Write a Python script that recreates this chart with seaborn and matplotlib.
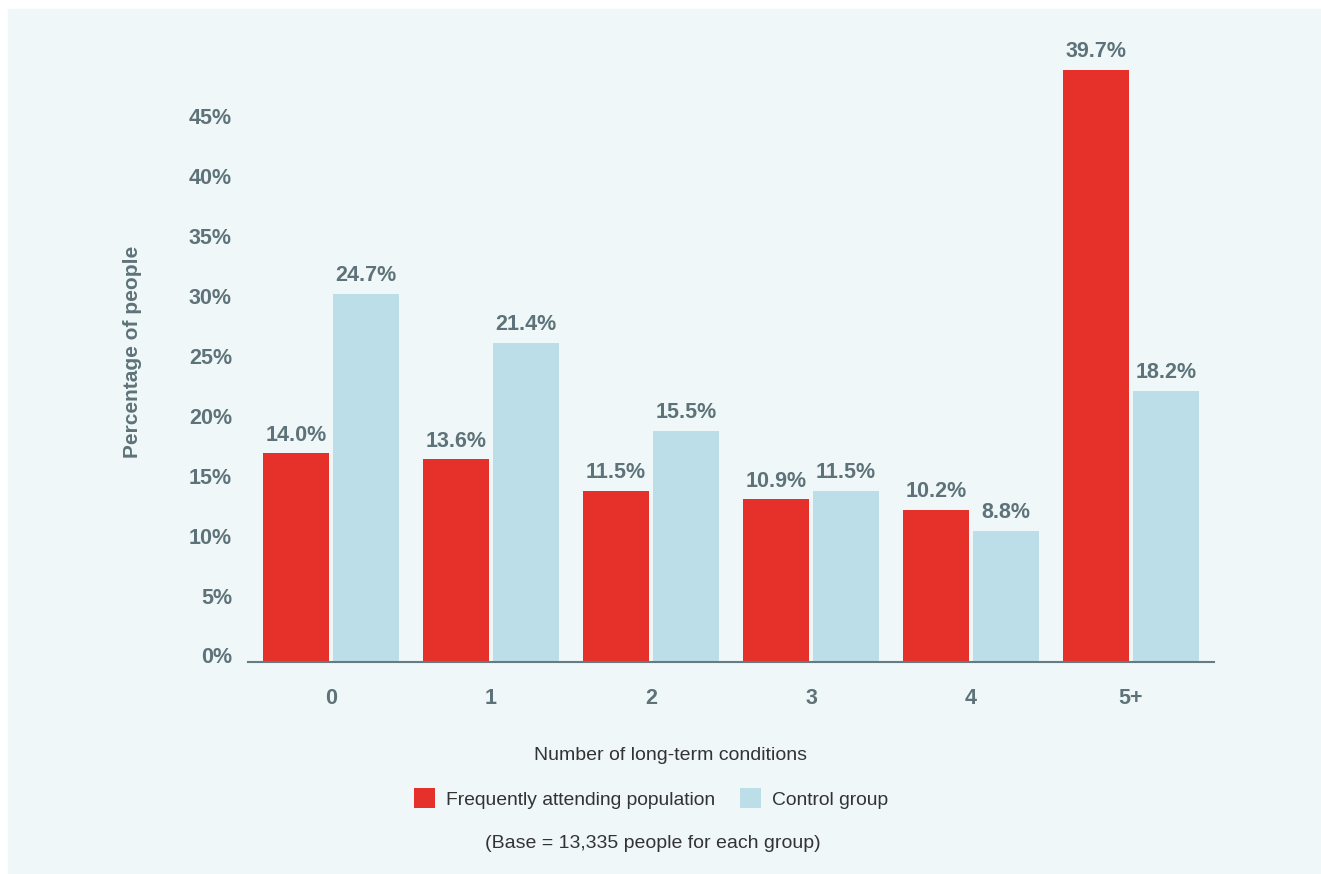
import matplotlib
matplotlib.use("Agg")
import matplotlib.pyplot as plt
import seaborn as sns
import pandas as pd
from matplotlib.patches import Patch, Rectangle

# Data
conditions = ["0", "1", "2", "3", "4", "5+"]
frequent = [14.0, 13.6, 11.5, 10.9, 10.2, 39.7]
control = [24.7, 21.4, 15.5, 11.5, 8.8, 18.2]
groups = ["Frequently attending population", "Control group"]
ytick_labels = ["0%", "5%", "10%", "15%", "20%", "25%", "30%", "35%", "40%", "45%"]

# Styling
RED = "#e5312a"
BLUE = "#bcdee8"
PANEL = "#eff7f9"
TEXT = "#5e7379"
AXIS = "#667c82"
DARK = "#333333"

sns.set_theme(style="white")
plt.rcParams["font.family"] = ["Liberation Sans", "DejaVu Sans"]

W, H = 1321, 874
fig = plt.figure(figsize=(W / 100, H / 100), dpi=100)
fig.patch.set_facecolor("white")
fig.add_artist(Rectangle((8 / W, -0.01), 1.01 - 8 / W, 1.01 - 9 / H,
                         transform=fig.transFigure, color=PANEL, zorder=-10))

ax = fig.add_axes([248 / W, 212 / H, 966 / W, 622 / H])
ax.set_facecolor("none")

df = pd.DataFrame({
    "conditions": conditions * 2,
    "pct": frequent + control,
    "group": [groups[0]] * len(conditions) + [groups[1]] * len(conditions),
})

sns.barplot(data=df, x="conditions", y="pct", hue="group", hue_order=groups,
            palette=[RED, BLUE], saturation=1, width=0.875, gap=0.057,
            errorbar=None, legend=False, linewidth=0, ax=ax)

for container in ax.containers:
    ax.bar_label(container, labels=[f"{v:.1f}%" for v in container.datavalues],
                 padding=5.5, fontsize=15.5, fontweight="bold", color=TEXT)

ax.set_xlim(-0.519, 5.519)
ax.set_ylim(0, 41.72)

# percentage ticks on the printed scale
tick_step = 4.02
tick_pos = [0.44 + tick_step * i for i in range(len(ytick_labels))]
ax.set_yticks(tick_pos, ytick_labels)
ax.tick_params(axis="y", length=0, pad=11.5, labelsize=15.5, labelcolor=TEXT)
ax.tick_params(axis="x", length=0, pad=19, labelsize=15.5, labelcolor=TEXT)
for lbl in ax.get_yticklabels() + ax.get_xticklabels():
    lbl.set_fontweight("bold")

ax.set_xlabel("")
ax.set_ylabel("")
sns.despine(ax=ax, left=True)
ax.spines["bottom"].set_color(AXIS)
ax.spines["bottom"].set_linewidth(1.5)
ax.spines["bottom"].set_zorder(5)

fig.text(132 / W, 1 - 352 / H, "Percentage of people", rotation=90,
         ha="center", va="center", fontsize=15, fontweight="bold", color=TEXT)
fig.text(670 / W, 1 - 760 / H, "Number of long-term conditions",
         ha="center", va="baseline", fontsize=14, color=DARK)

handles = [Patch(facecolor=RED, edgecolor="none"), Patch(facecolor=BLUE, edgecolor="none")]
fig.legend(handles, groups, loc="center", bbox_to_anchor=(651 / W, 1 - 798.5 / H),
           ncol=2, frameon=False, fontsize=13.9, handlelength=1.1, handleheight=1.2,
           handletextpad=0.55, columnspacing=1.3, labelcolor=DARK)

fig.text(652.5 / W, 1 - 848 / H, "(Base = 13,335 people for each group)",
         ha="center", va="baseline", fontsize=14, color=DARK)

fig.savefig("out.png", dpi=100, facecolor="white")
